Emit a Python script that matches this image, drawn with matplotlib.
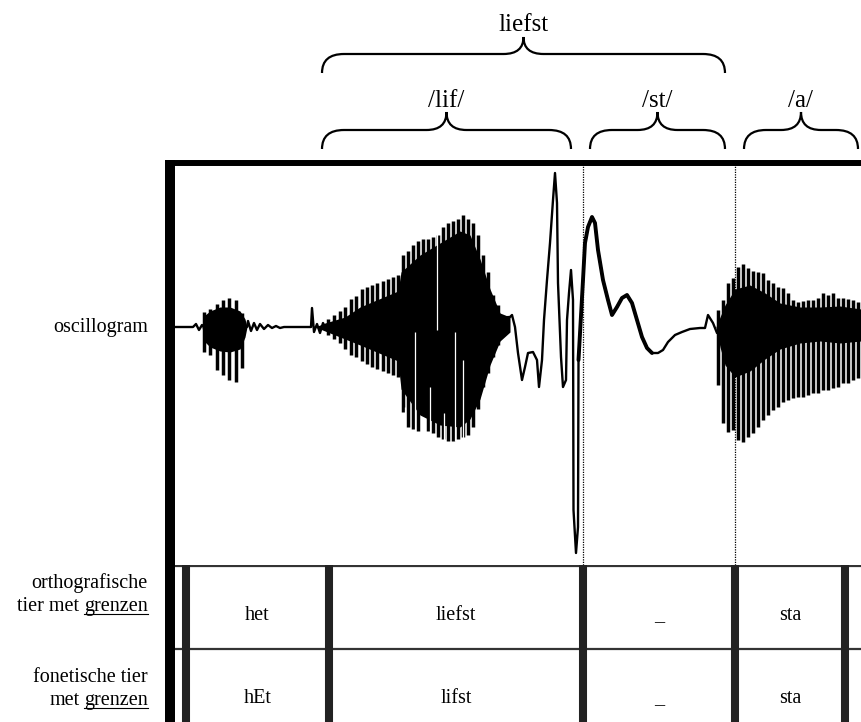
import matplotlib.pyplot as plt
from matplotlib.path import Path
from matplotlib.patches import PathPatch

plt.rcParams['font.family'] = ['Liberation Serif', 'DejaVu Serif']

# time axis in ms, amplitude in arbitrary units (0 = rest line)
# segment boundaries of the annotation tiers
bounds = [11, 154, 408, 560, 670]
ortho_labels = ['het', 'liefst', '_', 'sta']
fonet_labels = ['hEt', 'lifst', '_', 'sta']

# braces above the signal: (label, start, end)
word_brace = ('liefst', 147, 550)
morph_braces = [('/lif/', 147, 396), ('/st/', 415, 550), ('/a/', 569, 683)]

# single-line parts of the signal
trace_t = [0, 18, 21, 24, 27, 29, 72, 73, 76, 79, 82, 85, 89, 93, 97, 101, 105, 109,
           136, 137, 139, 142, 145, 148, 150, 335, 337, 340, 343, 347, 350, 353, 358,
           362, 364, 367, 369, 372, 375, 378, 380, 382, 383, 386, 388, 391, 392, 394,
           396, 398, 398.5, 401, 403, 403.5, 408, 410, 413, 417, 420, 423, 428, 433,
           437, 442, 447, 452, 457, 462, 467, 472, 477, 483, 488, 493, 500, 507, 515,
           525, 530, 533, 538, 542, 686]
trace_amp = [0, 0, 3, -3, 2, 0, 0, 6, -4, 4, -3, 3, -2, 2, -1, 1, -1, 0,
             0, 19, -5, 3, -6, 4, 0, 10, 12, 0, -26, -53, -40, -26, -25,
             -33, -60, -33, 7, 47, 84, 127, 154, 124, 44, -30, -60, -53, 7, 34,
             57, 27, -183, -226, -200, -33, 47, 84, 100, 110, 104, 77, 47, 27,
             12, 20, 29, 32, 24, 7, -10, -21, -26, -26, -23, -15, -8, -5, -2,
             -1, -1, 12, 4, -6, 0]

# voiced stretches: solid core envelope
het_core_t = [27, 30, 35, 45, 55, 65, 70, 72]
het_core_hi = [0, 12, 16, 20, 20, 16, 8, 0]
het_core_lo = [0, -15, -20, -24, -25, -22, -10, 0]

lif_core_t = [140, 150, 170, 185, 223, 226, 245, 265, 285, 295, 305, 315, 325, 335]
lif_core_hi = [0, 4, 10, 20, 36, 55, 72, 84, 96, 92, 68, 38, 14, 10]
lif_core_lo = [0, -4, -12, -18, -34, -62, -88, -98, -100, -92, -72, -38, -14, -5]

a_core_t = [541, 545, 550, 560, 575, 590, 605, 625, 645, 665, 686]
a_core_hi = [0, 10, 22, 38, 42, 34, 24, 20, 20, 21, 18]
a_core_lo = [0, -20, -38, -50, -44, -32, -22, -16, -14, -16, -14]

# glottal pulses (peak and trough of each period)
het_pulse_t = [29, 35, 42, 48, 54, 61, 67]
het_pulse_hi = [15, 18, 23, 27, 29, 27, 14]
het_pulse_lo = [-25, -28, -43, -48, -53, -55, -41]

lif_pulse_t = [153, 159, 165, 170, 176, 181, 187, 192, 197, 202, 208, 213, 218, 223,
               228, 233, 238, 243, 248, 253, 258, 263, 268, 273, 278, 283, 288, 293,
               298, 303, 308, 313, 318, 323]
lif_pulse_hi = [8, 12, 16, 20, 28, 31, 38, 40, 42, 44, 46, 48, 50, 52, 72, 76, 82, 86,
                88, 88, 90, 92, 100, 104, 106, 108, 112, 108, 104, 92, 72, 55, 32, 22]
lif_pulse_lo = [-8, -12, -16, -22, -28, -30, -34, -37, -40, -42, -44, -46, -48, -50,
                -85, -100, -102, -104, -66, -104, -106, -110, -112, -114, -114, -112,
                -110, -108, -100, -82, -60, -46, -30, -18]

a_pulse_t = [543, 548, 553, 558, 563, 568, 573, 578, 583, 588, 593, 598, 603, 608, 613,
             618, 623, 628, 633, 638, 643, 648, 653, 658, 663, 668, 673, 678, 683]
a_pulse_hi = [17, 27, 44, 49, 60, 63, 59, 56, 55, 54, 47, 44, 40, 39, 34, 27, 25, 26,
              27, 27, 29, 34, 32, 34, 29, 29, 28, 27, 25]
a_pulse_lo = [-58, -96, -105, -103, -113, -115, -110, -106, -100, -93, -88, -83, -80,
              -75, -73, -71, -70, -70, -68, -66, -66, -63, -63, -61, -60, -56, -56,
              -53, -51]

# thin light streaks inside the dense part of /lif/
gap_t = [230, 240, 255, 262, 269, 280, 288]
gap_top = [-80, -5, -60, 95, -86, -5, -33]
gap_bot = [-100, -106, -106, -3, -114, -114, -112]

W, H = 861, 722
fig = plt.figure(figsize=(W / 100, H / 100), dpi=100)


def px_axes(x0, y0, x1, y1):
    # axes placed by pixel box (y measured from the top)
    return fig.add_axes([x0 / W, 1 - y1 / H, (x1 - x0) / W, (y1 - y0) / H])


ax_fig = fig.add_axes([0, 0, 1, 1])
ax_fig.set_xlim(0, W)
ax_fig.set_ylim(H, 0)
ax_fig.axis('off')

ax_brace = px_axes(175, 0, 861, 160)
ax_brace.set_xlim(0, 686)
ax_brace.set_ylim(160, 0)
ax_brace.axis('off')

ax_wave = px_axes(175, 166, 861, 565)
ax_wave.set_xlim(0, 686)
ax_wave.set_ylim(-238, 161)
ax_wave.axis('off')

ax_tier = px_axes(175, 565, 861, 722)
ax_tier.set_xlim(0, 686)
ax_tier.set_ylim(157, 0)
ax_tier.axis('off')

# oscillogram
for ct, hi, lo in [(het_core_t, het_core_hi, het_core_lo),
                   (lif_core_t, lif_core_hi, lif_core_lo),
                   (a_core_t, a_core_hi, a_core_lo)]:
    ax_wave.fill_between(ct, lo, hi, color='black', lw=0)
for pt, hi, lo in [(het_pulse_t, het_pulse_hi, het_pulse_lo),
                   (lif_pulse_t, lif_pulse_hi, lif_pulse_lo),
                   (a_pulse_t, a_pulse_hi, a_pulse_lo)]:
    ax_wave.vlines(pt, lo, hi, color='black', lw=2.5)
ax_wave.vlines(gap_t, gap_bot, gap_top, color='white', lw=0.9, zorder=3)
ax_wave.plot(trace_t, trace_amp, color='black', lw=1.7)
# the fricative part after the release is drawn a little heavier
st = [i for i, t in enumerate(trace_t) if 403.5 <= t <= 480]
ax_wave.plot([trace_t[i] for i in st], [trace_amp[i] for i in st],
             color='black', lw=2.8, solid_capstyle='round')
ax_wave.vlines(bounds[2:4], -238, 161, color='black', lw=0.9, linestyles=(0, (1, 1)),
               zorder=4)

# tiers
ax_tier.hlines([1, 84], 0, 686, color='#333333', lw=1.6)
ax_tier.vlines(bounds, -2, 157, color='#222222', lw=5.8)
mids = [(a + b) / 2 for a, b in zip(bounds[:-1], bounds[1:])]
for x, s1, s2 in zip(mids, ortho_labels, fonet_labels):
    ax_tier.text(x, 55, s1, ha='center', va='baseline', fontsize=14.5)
    ax_tier.text(x, 138, s2, ha='center', va='baseline', fontsize=14.5)


# curly braces
def brace(x0, x1, y_end, y_mid, y_tip, r=22, r2=20):
    xm = (x0 + x1) / 2
    verts = [(x0, y_end), (x0, y_mid), (x0 + r, y_mid),
             (xm - r2, y_mid),
             (xm, y_mid), (xm, y_tip),
             (xm, y_mid), (xm + r2, y_mid),
             (x1 - r, y_mid),
             (x1, y_mid), (x1, y_end)]
    codes = [Path.MOVETO, Path.CURVE3, Path.CURVE3, Path.LINETO,
             Path.CURVE3, Path.CURVE3, Path.CURVE3, Path.CURVE3,
             Path.LINETO, Path.CURVE3, Path.CURVE3]
    ax_brace.add_patch(PathPatch(Path(verts, codes), fill=False, lw=1.6,
                                 color='black', clip_on=False))
    return xm


label, a, b = word_brace
xm = brace(a, b, 73, 54, 37)
ax_brace.text(xm, 31, label, ha='center', va='baseline', fontsize=18)
for label, a, b in morph_braces:
    xm = brace(a, b, 149, 130, 112)
    ax_brace.text(xm, 107, label, ha='center', va='baseline', fontsize=18)

# frame around signal and tiers
ax_fig.vlines(170, 160, H, color='black', lw=7.2)
ax_fig.hlines(163, 165, W, color='black', lw=4.3)

# row labels on the left
renderer = fig.canvas.get_renderer()
fs = 14.5


def side_label(y, plain, under=None):
    if under is None:
        ax_fig.text(148, y, plain, ha='right', va='baseline', fontsize=fs)
        return
    t = ax_fig.text(148, y, under, ha='right', va='baseline', fontsize=fs)
    bb = t.get_window_extent(renderer)
    x0 = ax_fig.transData.inverted().transform((bb.x0, bb.y0))[0]
    ax_fig.text(x0 - 5, y, plain, ha='right', va='baseline', fontsize=fs)
    ax_fig.plot([x0, 148], [y + 2.5, y + 2.5], color='black', lw=0.8)


side_label(332, 'oscillogram')
side_label(588, 'orthografische')
side_label(611, 'tier met', 'grenzen')
side_label(682, 'fonetische tier')
side_label(705, 'met', 'grenzen')

fig.savefig('out.png', dpi=100)
